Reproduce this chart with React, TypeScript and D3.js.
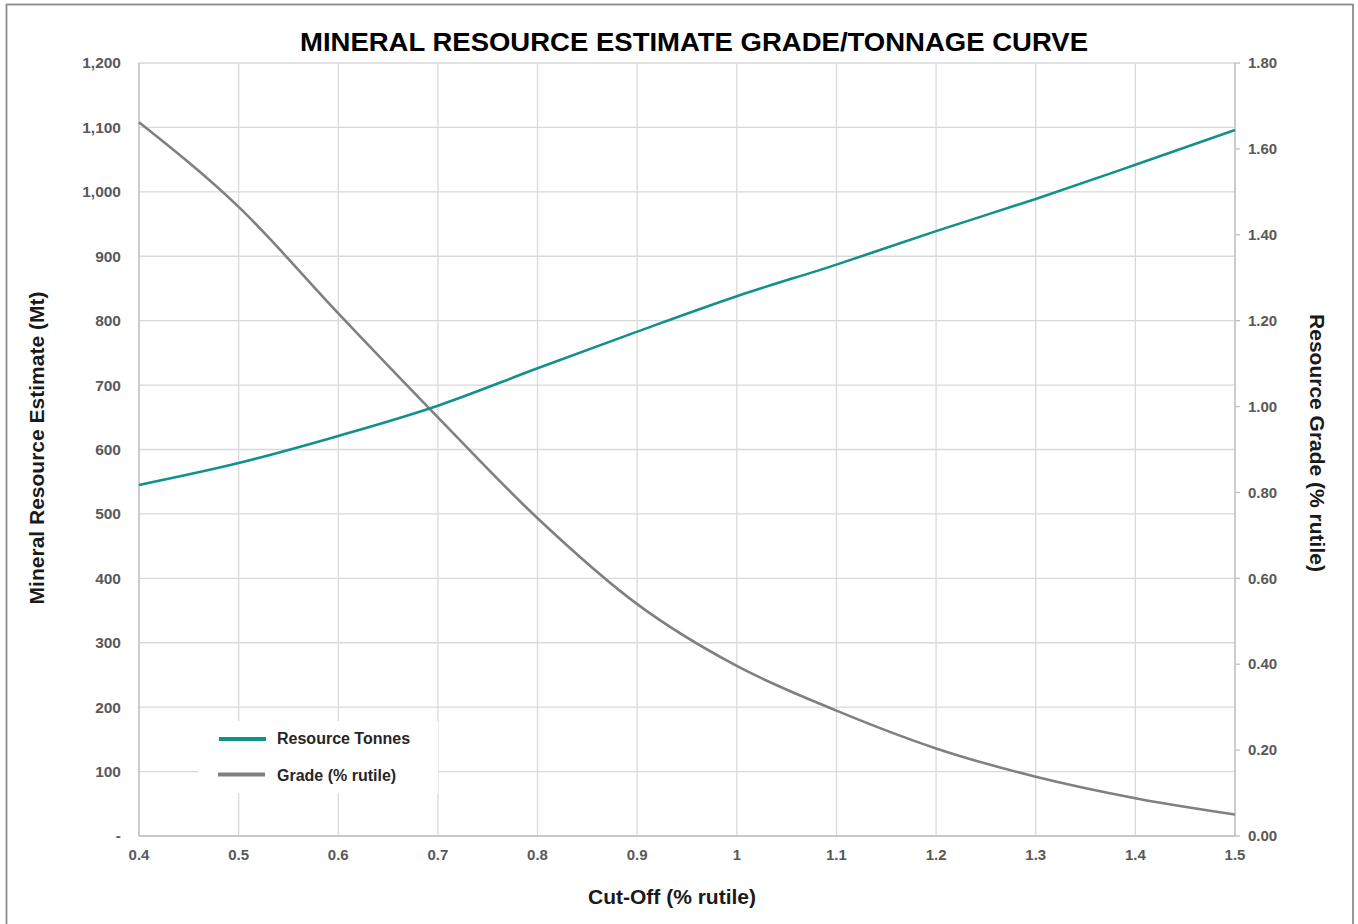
import React from "react";
import * as d3 from "d3";

const cutOffs = [0.4, 0.5, 0.6, 0.7, 0.8, 0.9, 1.0, 1.1, 1.2, 1.3, 1.4, 1.5];
const resourceTonnes = [545, 579, 621, 668, 726, 783, 838, 887, 939, 989, 1042, 1096];
const gradeRutile = [1.662, 1.465, 1.217, 0.975, 0.74, 0.54, 0.396, 0.292, 0.204, 0.138, 0.088, 0.05];

const xTicks = [0.4, 0.5, 0.6, 0.7, 0.8, 0.9, 1, 1.1, 1.2, 1.3, 1.4, 1.5];
const leftTicks = [0, 100, 200, 300, 400, 500, 600, 700, 800, 900, 1000, 1100, 1200];
const rightTicks = [0, 0.2, 0.4, 0.6, 0.8, 1.0, 1.2, 1.4, 1.6, 1.8];

const title = "MINERAL RESOURCE ESTIMATE GRADE/TONNAGE CURVE";
const xTitle = "Cut-Off (% rutile)";
const yLeftTitle = "Mineral Resource Estimate (Mt)";
const yRightTitle = "Resource Grade (% rutile)";
const seriesNames = ["Resource Tonnes", "Grade (% rutile)"];

const W = 1358;
const H = 924;
const PL = 139, PR = 1235, PT = 63, PB = 836;
const TEAL = "#12918b";
const GREY = "#808080";
const FONT = "'Liberation Sans', Arial, Helvetica, sans-serif";

export default function App() {
  const x = d3.scaleLinear().domain([0.4, 1.5]).range([PL, PR]);
  const yL = d3.scaleLinear().domain([0, 1200]).range([PB, PT]);
  const yR = d3.scaleLinear().domain([0, 1.8]).range([PB, PT]);

  const tonnesLine = d3
    .line<number>()
    .x((_, i) => x(cutOffs[i]))
    .y((d) => yL(d))
    .curve(d3.curveMonotoneX);
  const gradeLine = d3
    .line<number>()
    .x((_, i) => x(cutOffs[i]))
    .y((d) => yR(d))
    .curve(d3.curveMonotoneX);

  const fmtL = (v: number) => (v === 0 ? "-" : d3.format(",")(v));

  return (
    <svg
      width={W}
      height={H}
      style={{ position: "absolute", left: 0, top: 0, background: "#fff" }}
      fontFamily={FONT}
    >
      <rect x={0} y={0} width={W} height={H} fill="#fff" />
      <rect x={6.5} y={4.5} width={1346.5} height={930} fill="none" stroke="#8c8c8c" strokeWidth={1.8} />

      {/* gridlines */}
      {leftTicks.map((t) => (
        <line key={"gh" + t} x1={PL} x2={PR} y1={yL(t)} y2={yL(t)} stroke="#d9d9d9" strokeWidth={1.3} />
      ))}
      {xTicks.map((t) => (
        <line key={"gv" + t} x1={x(t)} x2={x(t)} y1={PT} y2={PB} stroke="#d9d9d9" strokeWidth={1.3} />
      ))}

      {/* axes */}
      <line x1={PL} x2={PL} y1={PT} y2={PB} stroke="#bfbfbf" strokeWidth={1.3} />
      <line x1={PR} x2={PR} y1={PT} y2={PB} stroke="#bfbfbf" strokeWidth={1.3} />
      <line x1={PL} x2={PR} y1={PB} y2={PB} stroke="#bfbfbf" strokeWidth={1.3} />
      {rightTicks.map((t) => (
        <line key={"rt" + t} x1={PR} x2={PR + 5} y1={yR(t)} y2={yR(t)} stroke="#bfbfbf" strokeWidth={1.3} />
      ))}

      {/* tick labels */}
      {leftTicks.map((t) => (
        <text
          key={"lt" + t}
          x={121}
          y={yL(t)}
          dy="0.35em"
          textAnchor="end"
          fontSize={15.5}
          fontWeight="bold"
          fill="#595959"
        >
          {fmtL(t)}
        </text>
      ))}
      {rightTicks.map((t) => (
        <text
          key={"rl" + t}
          x={1248}
          y={yR(t)}
          dy="0.35em"
          textAnchor="start"
          fontSize={15}
          fontWeight="bold"
          fill="#595959"
        >
          {t.toFixed(2)}
        </text>
      ))}
      {xTicks.map((t) => (
        <text
          key={"xl" + t}
          x={x(t)}
          y={855}
          dy="0.35em"
          textAnchor="middle"
          fontSize={15}
          fontWeight="bold"
          fill="#595959"
        >
          {String(t)}
        </text>
      ))}

      {/* series */}
      <path d={gradeLine(gradeRutile) || ""} fill="none" stroke={GREY} strokeWidth={2.6} />
      <path d={tonnesLine(resourceTonnes) || ""} fill="none" stroke={TEAL} strokeWidth={2.6} />

      {/* legend */}
      <rect x={198} y={721} width={240} height={72} fill="#fff" />
      <line x1={219} x2={266} y1={739} y2={739} stroke={TEAL} strokeWidth={4} />
      <text x={277} y={738} dy="0.35em" fontSize={16} fontWeight="bold" fill="#262626">
        {seriesNames[0]}
      </text>
      <line x1={218} x2={265} y1={774.5} y2={774.5} stroke={GREY} strokeWidth={4} />
      <text x={277} y={775} dy="0.35em" fontSize={16} fontWeight="bold" fill="#262626">
        {seriesNames[1]}
      </text>

      {/* titles */}
      <text
        x={694}
        y={42}
        dy="0.35em"
        textAnchor="middle"
        fontSize={26}
        fontWeight="bold"
        fill="#000"
        textLength={788}
        lengthAdjust="spacingAndGlyphs"
      >
        {title}
      </text>
      <text x={672} y={897} dy="0.35em" textAnchor="middle" fontSize={21} fontWeight="bold" fill="#1a1a1a">
        {xTitle}
      </text>
      <text
        transform={`translate(37,448) rotate(-90)`}
        dy="0.35em"
        textAnchor="middle"
        fontSize={21}
        fontWeight="bold"
        fill="#1a1a1a"
      >
        {yLeftTitle}
      </text>
      <text
        transform={`translate(1317,443) rotate(90)`}
        dy="0.35em"
        textAnchor="middle"
        fontSize={21}
        fontWeight="bold"
        fill="#1a1a1a"
      >
        {yRightTitle}
      </text>
    </svg>
  );
}
